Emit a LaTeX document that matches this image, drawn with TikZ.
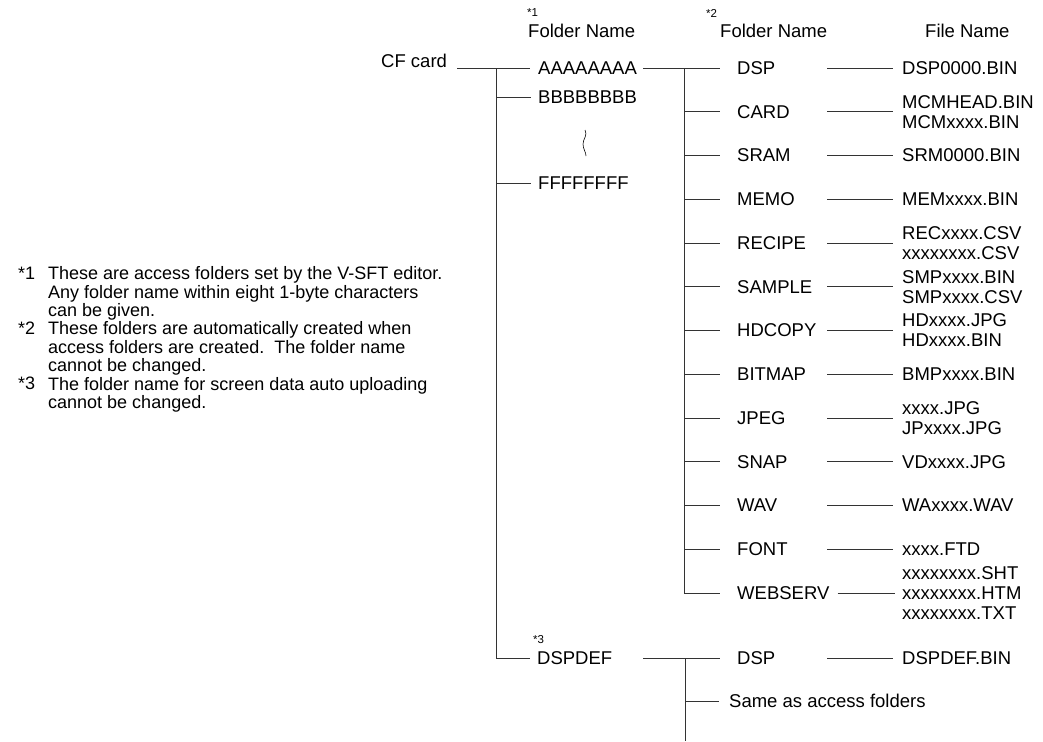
\documentclass[tikz,border=0pt]{standalone}
\usepackage{fontspec}
\setmainfont{Liberation Sans}
\usetikzlibrary{positioning}
\newcommand{\treefont}{\fontsize{18.5}{20}\selectfont}
\newcommand{\notefont}{\fontsize{18}{18.4}\selectfont}
\newcommand{\starfont}{\fontsize{11.5}{12}\selectfont}

\begin{document}
\begin{tikzpicture}[
  x=1pt, y=-1pt,
  font=\treefont,
  txt/.style={inner sep=0pt, anchor=west, align=left},
  notetxt/.style={inner sep=0pt, anchor=north west, align=left, font=\notefont},
  star/.style={inner sep=0pt, anchor=west, font=\starfont},
  ln/.style={draw=black!80, line width=0.8pt}
]
\path[fill=white] (0,0) rectangle (1043,741);
\node[notetxt] (n1) at (18,266.5) {*1};
\node[notetxt] (t1) at (48,266.5) {These are access folders set by the V-SFT editor.\\Any folder name within eight 1-byte characters\\can be given.};
\node[notetxt] (n2) at (18,321.7) {*2};
\node[notetxt] (t2) at (48,321.7) {These folders are automatically created when\\access folders are created.\ \ The folder name\\cannot be changed.};
\node[notetxt] (n3) at (18,376.9) {*3};
\node[notetxt] (t3) at (48,376.9) {The folder name for screen data auto uploading\\cannot be changed.};
\node[txt] (cf) at (381,61) {CF card};
\node[star] (s1) at (527,13) {*1};
\node[txt] (h1) at (528,31) {Folder Name};
\node[star] (s2) at (706,13) {*2};
\node[txt] (h2) at (720,31) {Folder Name};
\node[txt] (h3) at (925,31) {File Name};
\node[txt] (aaa) at (538,68) {AAAAAAAA};
\node[txt] (bbb) at (538,97) {BBBBBBBB};
\node[txt] (fff) at (538,183) {FFFFFFFF};
\node[star] (s3) at (533,640) {*3};
\node[txt] (dspdef) at (537,658) {DSPDEF};
\node[txt] (dsp) at (737,68) {DSP};
\node[txt] (card) at (737,111.75) {CARD};
\node[txt] (sram) at (737,155.5) {SRAM};
\node[txt] (memo) at (737,199.25) {MEMO};
\node[txt] (recipe) at (737,243) {RECIPE};
\node[txt] (sample) at (737,286.75) {SAMPLE};
\node[txt] (hdcopy) at (737,330.5) {HDCOPY};
\node[txt] (bitmap) at (737,374.25) {BITMAP};
\node[txt] (jpeg) at (737,418) {JPEG};
\node[txt] (snap) at (737,461.75) {SNAP};
\node[txt] (wav) at (737,505.5) {WAV};
\node[txt] (font) at (737,549.25) {FONT};
\node[txt] (webserv) at (737,593) {WEBSERV};
\node[txt] (dspb) at (737,658) {DSP};
\node[txt] (same) at (729,701) {Same as access folders};
\node[txt, right=165pt of dsp.west] (dspF) {DSP0000.BIN};
\node[txt, right=165pt of card.west] (cardF) {MCMHEAD.BIN\\MCMxxxx.BIN};
\node[txt, right=165pt of sram.west] (sramF) {SRM0000.BIN};
\node[txt, right=165pt of memo.west] (memoF) {MEMxxxx.BIN};
\node[txt, right=165pt of recipe.west] (recipeF) {RECxxxx.CSV\\xxxxxxxx.CSV};
\node[txt, right=165pt of sample.west] (sampleF) {SMPxxxx.BIN\\SMPxxxx.CSV};
\node[txt, right=165pt of hdcopy.west] (hdcopyF) {HDxxxx.JPG\\HDxxxx.BIN};
\node[txt, right=165pt of bitmap.west] (bitmapF) {BMPxxxx.BIN};
\node[txt, right=165pt of jpeg.west] (jpegF) {xxxx.JPG\\JPxxxx.JPG};
\node[txt, right=165pt of snap.west] (snapF) {VDxxxx.JPG};
\node[txt, right=165pt of wav.west] (wavF) {WAxxxx.WAV};
\node[txt, right=165pt of font.west] (fontF) {xxxx.FTD};
\node[txt, right=165pt of webserv.west] (webservF) {xxxxxxxx.SHT\\xxxxxxxx.HTM\\xxxxxxxx.TXT};
\node[txt, right=165pt of dspb.west] (dspbF) {DSPDEF.BIN};
\coordinate[xshift=10pt] (cfx) at (cf.east);
\coordinate (trunk) at (496,68);
\coordinate (cj) at (643,68);
\coordinate (br) at (684,68);
\coordinate (brb) at (685,658);
\coordinate (brbend) at (685,741);
\draw[ln] (cfx |- aaa.west) -- ([xshift=-8pt]aaa.west);
\draw[ln] (trunk) |- ([xshift=-7pt]dspdef.west);
\draw[ln] (trunk |- bbb.west) -- ([xshift=-7pt]bbb.west);
\draw[ln] (trunk |- fff.west) -- ([xshift=-7pt]fff.west);
\draw[line width=0.6pt] (585,130) .. controls (588,135) and (583,139) .. (583,144) .. controls (583,149) and (586,152) .. (586,156);
\draw[ln] (cj) -- ([xshift=-17pt]dsp.west);
\draw[ln] (br) |- ([xshift=-17pt]webserv.west);
\draw[ln] (br |- card.west) -- ([xshift=-17pt]card.west);
\draw[ln] (br |- sram.west) -- ([xshift=-17pt]sram.west);
\draw[ln] (br |- memo.west) -- ([xshift=-17pt]memo.west);
\draw[ln] (br |- recipe.west) -- ([xshift=-17pt]recipe.west);
\draw[ln] (br |- sample.west) -- ([xshift=-17pt]sample.west);
\draw[ln] (br |- hdcopy.west) -- ([xshift=-17pt]hdcopy.west);
\draw[ln] (br |- bitmap.west) -- ([xshift=-17pt]bitmap.west);
\draw[ln] (br |- jpeg.west) -- ([xshift=-17pt]jpeg.west);
\draw[ln] (br |- snap.west) -- ([xshift=-17pt]snap.west);
\draw[ln] (br |- wav.west) -- ([xshift=-17pt]wav.west);
\draw[ln] (br |- font.west) -- ([xshift=-17pt]font.west);
\draw[ln] ([xshift=90pt]dsp.west) -- ([xshift=-9pt]dspF.west);
\draw[ln] ([xshift=90pt]card.west) -- ([xshift=-9pt]cardF.west);
\draw[ln] ([xshift=90pt]sram.west) -- ([xshift=-9pt]sramF.west);
\draw[ln] ([xshift=90pt]memo.west) -- ([xshift=-9pt]memoF.west);
\draw[ln] ([xshift=90pt]recipe.west) -- ([xshift=-9pt]recipeF.west);
\draw[ln] ([xshift=90pt]sample.west) -- ([xshift=-9pt]sampleF.west);
\draw[ln] ([xshift=90pt]hdcopy.west) -- ([xshift=-9pt]hdcopyF.west);
\draw[ln] ([xshift=90pt]bitmap.west) -- ([xshift=-9pt]bitmapF.west);
\draw[ln] ([xshift=90pt]jpeg.west) -- ([xshift=-9pt]jpegF.west);
\draw[ln] ([xshift=90pt]snap.west) -- ([xshift=-9pt]snapF.west);
\draw[ln] ([xshift=90pt]wav.west) -- ([xshift=-9pt]wavF.west);
\draw[ln] ([xshift=90pt]font.west) -- ([xshift=-9pt]fontF.west);
\draw[ln] ([xshift=8pt]webserv.east) -- ([xshift=-7pt]webservF.west);
\draw[ln] (cj |- dspdef.west) -- ([xshift=-17pt]dspb.west);
\draw[ln] (brb) -- (brbend);
\draw[ln] (brb |- same.west) -- ([xshift=-10pt]same.west);
\draw[ln] ([xshift=90pt]dspb.west) -- ([xshift=-9pt]dspbF.west);
\end{tikzpicture}
\end{document}
